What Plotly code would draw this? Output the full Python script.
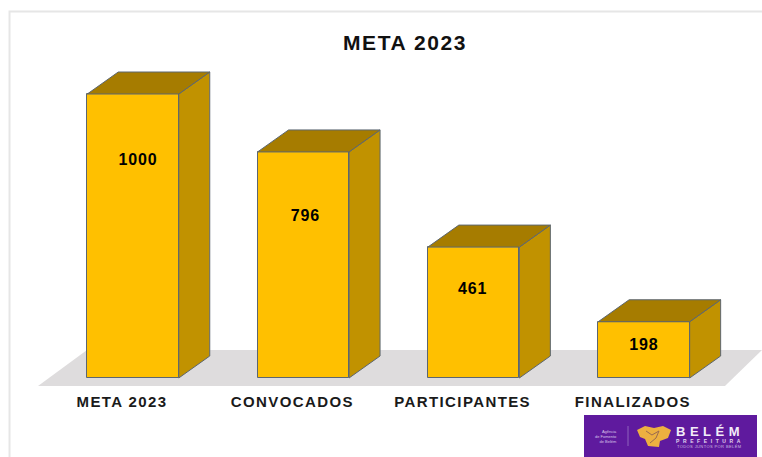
import plotly.graph_objects as go

# ---- data ----
categories = ["META 2023", "CONVOCADOS", "PARTICIPANTES", "FINALIZADOS"]
values = [1000, 796, 461, 198]
chart_title = "META 2023"

# ---- layout constants (pixels of the 762x457 page) ----
W, H = 762, 457
PLOT_BOTTOM = 390
BASE_Y = 378
PX_PER_UNIT = 0.284
FIRST_CENTER = 133
STEP = 170.3
BAR_PX = 91.5
DEPTH_X, DEPTH_Y = 31, 22
LABEL_SHIFT_PX = -11
value_label_frac = [0.763, 0.712, 0.672, 0.57]
value_label_shift = [5, 2, -1, 0]

dx = DEPTH_X / STEP
dy = DEPTH_Y / PX_PER_UNIT
half = BAR_PX / STEP / 2
xs = list(range(len(values)))

FRONT, SIDE, TOP = "#FFC000", "#C19200", "#A67C00"
EDGE = "#5C6670"
FONT = "Liberation Sans, Arial, sans-serif"


def px(x):
    return x / W


def py(y):
    return 1 - y / PLOT_BOTTOM


def poly(points):
    return "M " + " L ".join(f"{px(a):.4f} {py(b):.4f}" for a, b in points) + " Z"


fig = go.Figure()

for i, v in zip(xs, values):
    r, l = i + half, i - half
    fig.add_trace(go.Scatter(
        x=[r, r + dx, r + dx, r, r], y=[0, dy, v + dy, v, 0],
        mode="lines", fill="toself", fillcolor=SIDE,
        line=dict(color=EDGE, width=1), hoverinfo="skip", showlegend=False))
    fig.add_trace(go.Scatter(
        x=[l, l + dx, r + dx, r, l], y=[v, v + dy, v + dy, v, v],
        mode="lines", fill="toself", fillcolor=TOP,
        line=dict(color=EDGE, width=1), hoverinfo="skip", showlegend=False))

fig.add_trace(go.Bar(
    x=xs, y=values, width=2 * half, marker=dict(color=FRONT, line=dict(color=EDGE, width=1)),
    showlegend=False, hovertemplate="%{y}<extra></extra>"))

fig.add_trace(go.Scatter(
    x=[i + s / STEP for i, s in zip(xs, value_label_shift)],
    y=[v * f for v, f in zip(values, value_label_frac)],
    mode="text", text=[f"<b>{v}</b>" for v in values],
    textfont=dict(family=FONT, size=16, color="#000000"),
    textposition="middle center", hoverinfo="skip", showlegend=False))

PURPLE = "#5F1A9E"
CREST = "#EDB040"
shapes = [
    # floor
    dict(type="path", xref="paper", yref="paper", layer="below",
         path=poly([(38, 386), (87, 350), (762, 350), (725, 386)]),
         fillcolor="#DEDCDD", line=dict(width=0)),
    # frame
    dict(type="path", xref="paper", yref="paper", layer="below",
         path="M " + " L ".join(f"{px(a):.4f} {py(b):.4f}" for a, b in [(9.5, 457), (9.5, 11.5), (762, 11.5)]),
         line=dict(color="#E6E6E6", width=2)),
    # logo
    dict(type="rect", xref="paper", yref="paper", layer="above",
         x0=px(584), x1=px(757), y0=py(457), y1=py(415),
         fillcolor=PURPLE, line=dict(width=0)),
    dict(type="path", xref="paper", yref="paper", layer="above",
         path=poly([(637, 430), (645, 426), (654, 428), (663, 426), (671, 430),
                    (668, 438), (660, 441), (659, 447), (648, 446), (645, 439), (640, 437)]),
         fillcolor=CREST, line=dict(width=0)),
    dict(type="path", xref="paper", yref="paper", layer="above",
         path="M " + " L ".join(f"{px(a):.4f} {py(b):.4f}" for a, b in [(646, 431), (652, 435), (659, 431), (656, 438), (650, 443)]),
         line=dict(color="#9A6A50", width=1)),
    dict(type="line", xref="paper", yref="paper", layer="above",
         x0=px(628), x1=px(628), y0=py(426), y1=py(446),
         line=dict(color="#8F62BC", width=1)),
]


def logo_text(text, x, y, size, color, xanchor="left", align="left"):
    return dict(text=text, xref="paper", yref="paper", x=px(x), y=py(y), xanchor=xanchor,
                yanchor="middle", align=align, showarrow=False, borderpad=0,
                font=dict(family="Liberation Sans", size=size, color=color))


annotations = [
    logo_text("<b>BELÉM</b>", 675, 431, 13, "#F3ECF8"),
    logo_text("<b>PREFEITURA</b>", 675, 441, 5, "#E3D6EE"),
    logo_text("TODOS JUNTOS POR BELÉM", 676, 447, 4, "#CDB8E0"),
    logo_text("Agência<br>de Fomento<br>de Belém", 618, 436, 4, "#D8C4E8", xanchor="right", align="right"),
]

fig.update_layout(
    width=W, height=H,
    margin=dict(l=0, r=0, t=0, b=H - PLOT_BOTTOM, autoexpand=False),
    paper_bgcolor="#FFFFFF", plot_bgcolor="rgba(0,0,0,0)",
    title=dict(text=f"<b>{chart_title}</b>", x=405 / W, xanchor="center",
               y=1 - 43 / H, yanchor="middle",
               font=dict(family=FONT, size=21, color="#111111")),
    shapes=shapes, annotations=annotations, bargap=0,
    xaxis=dict(range=[-FIRST_CENTER / STEP, (W - FIRST_CENTER) / STEP],
               tickvals=[i + LABEL_SHIFT_PX / STEP for i in xs],
               ticktext=[f"<b>{c}</b>" for c in categories],
               tickfont=dict(family=FONT, size=15, color="#1A1A1A"),
               showgrid=False, zeroline=False, showline=False, ticks="", ticklabelstandoff=1),
    yaxis=dict(range=[-(PLOT_BOTTOM - BASE_Y) / PX_PER_UNIT, BASE_Y / PX_PER_UNIT],
               visible=False, showgrid=False, zeroline=False),
)

css = (
    ".xtick text{letter-spacing:1.4px}"
    ".gtitle{letter-spacing:1.6px}"
    ".textpoint text{letter-spacing:.8px}"
    ".annotation[data-index='0'] text{letter-spacing:4.5px}"
    ".annotation[data-index='1'] text{letter-spacing:3.6px}"
    ".annotation[data-index='2'] text{letter-spacing:.4px}"
)
post = (
    "document.body.style.margin='0';document.body.style.overflow='hidden';"
    "var s=document.createElement('style');s.textContent=" + repr(css).replace("\\'", "'") + ";"
    "document.head.appendChild(s);"
)
fig.write_html("out.html", post_script=post, config={"displayModeBar": False})
